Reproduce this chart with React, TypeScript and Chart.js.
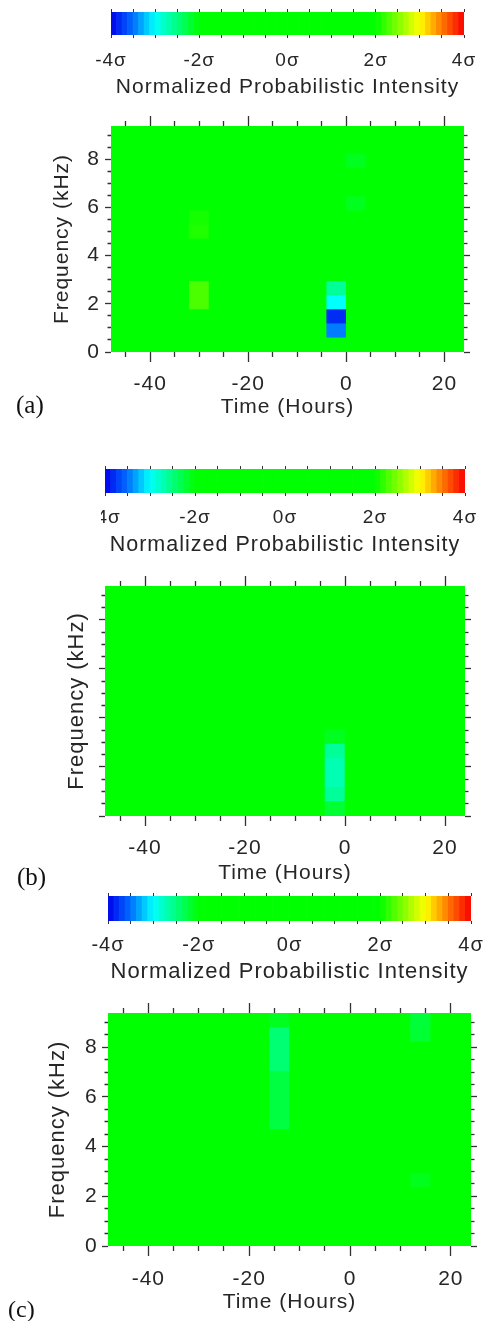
import React, { useEffect, useRef } from 'react';
import { Chart, registerables } from 'chart.js';

Chart.register(...registerables);

const FONT = "'Liberation Sans', Arial, Helvetica, sans-serif";
const SERIF = "'Liberation Serif', 'Times New Roman', Times, serif";
const TEXT_COLOR = '#262626';
const TICK_COLOR = '#333333';
Chart.defaults.font.family = FONT;
Chart.defaults.color = TEXT_COLOR;

// ---------------- data ----------------
// time bins (hours): start of each 4-hour bin
const timeBinStartsH = [-48, -44, -40, -36, -32, -28, -24, -20, -16, -12, -8, -4, 0, 4, 8, 12, 16, 20];
const timeBinWidthH = 4;
const timeRangeH = [-48, 24];
const timeTickLabels = [-40, -20, 0, 20];

// frequency bin edges (kHz)
const freqEdgesKHz = [0, 0.586, 1.172, 1.758, 2.344, 2.93, 3.516, 4.102, 4.688, 5.273, 5.859, 6.445, 7.031, 7.617, 8.203, 8.789, 9.375];
const freqTickLabels = [0, 2, 4, 6, 8];

// colour bar
const sigmaRange = [-4, 4];
const sigmaTickLabels = [-4, -2, 0, 2, 4];
const cmapStops = [-4, -3.5, -3, -2, 2, 3, 3.5, 4];
const cmapRGB = [
  [0, 0, 235],
  [0, 110, 255],
  [0, 255, 255],
  [0, 255, 0],
  [0, 255, 0],
  [255, 255, 0],
  [255, 120, 0],
  [250, 0, 0],
];
const colorbarSteps = 64;

// normalized intensity (sigma), rows = frequency bins (low -> high), columns = time bins
const intensityA = [
  [0, 0, 0, 0, 0, 0, 0, 0, 0, 0, 0, 0, 0, 0, 0, 0, 0, 0],
  [0, 0, 0, 0, 0, 0, 0, 0, 0, 0, 0, -3.45, 0, 0, 0, 0, 0, 0],
  [0, 0, 0, 0, 0, 0, 0, 0, 0, 0, 0, -3.8, 0, 0, 0, 0, 0, 0],
  [0, 0, 0, 0, 2.3, 0, 0, 0, 0, 0, 0, -3.0, 0, 0, 0, 0, 0, 0],
  [0, 0, 0, 0, 2.3, 0, 0, 0, 0, 0, 0, -2.6, 0, 0, 0, 0, 0, 0],
  [0, 0, 0, 0, 0, 0, 0, 0, 0, 0, 0, 0, 0, 0, 0, 0, 0, 0],
  [0, 0, 0, 0, 0, 0, 0, 0, 0, 0, 0, 0, 0, 0, 0, 0, 0, 0],
  [0, 0, 0, 0, 0, 0, 0, 0, 0, 0, 0, 0, 0, 0, 0, 0, 0, 0],
  [0, 0, 0, 0, 2.12, 0, 0, 0, 0, 0, 0, 0, 0, 0, 0, 0, 0, 0],
  [0, 0, 0, 0, 2.08, 0, 0, 0, 0, 0, 0, 0, 0, 0, 0, 0, 0, 0],
  [0, 0, 0, 0, 0, 0, 0, 0, 0, 0, 0, 0, -2.12, 0, 0, 0, 0, 0],
  [0, 0, 0, 0, 0, 0, 0, 0, 0, 0, 0, 0, 0, 0, 0, 0, 0, 0],
  [0, 0, 0, 0, 0, 0, 0, 0, 0, 0, 0, 0, 0, 0, 0, 0, 0, 0],
  [0, 0, 0, 0, 0, 0, 0, 0, 0, 0, 0, 0, -2.12, 0, 0, 0, 0, 0],
  [0, 0, 0, 0, 0, 0, 0, 0, 0, 0, 0, 0, 0, 0, 0, 0, 0, 0],
  [0, 0, 0, 0, 0, 0, 0, 0, 0, 0, 0, 0, 0, 0, 0, 0, 0, 0],
];

const intensityB = [
  [0, 0, 0, 0, 0, 0, 0, 0, 0, 0, 0, -2.2, 0, 0, 0, 0, 0, 0],
  [0, 0, 0, 0, 0, 0, 0, 0, 0, 0, 0, -2.6, 0, 0, 0, 0, 0, 0],
  [0, 0, 0, 0, 0, 0, 0, 0, 0, 0, 0, -2.7, 0, 0, 0, 0, 0, 0],
  [0, 0, 0, 0, 0, 0, 0, 0, 0, 0, 0, -2.7, 0, 0, 0, 0, 0, 0],
  [0, 0, 0, 0, 0, 0, 0, 0, 0, 0, 0, -2.6, 0, 0, 0, 0, 0, 0],
  [0, 0, 0, 0, 0, 0, 0, 0, 0, 0, 0, -2.12, 0, 0, 0, 0, 0, 0],
  [0, 0, 0, 0, 0, 0, 0, 0, 0, 0, 0, 0, 0, 0, 0, 0, 0, 0],
  [0, 0, 0, 0, 0, 0, 0, 0, 0, 0, 0, 0, 0, 0, 0, 0, 0, 0],
  [0, 0, 0, 0, 0, 0, 0, 0, 0, 0, 0, 0, 0, 0, 0, 0, 0, 0],
  [0, 0, 0, 0, 0, 0, 0, 0, 0, 0, 0, 0, 0, 0, 0, 0, 0, 0],
  [0, 0, 0, 0, 0, 0, 0, 0, 0, 0, 0, 0, 0, 0, 0, 0, 0, 0],
  [0, 0, 0, 0, 0, 0, 0, 0, 0, 0, 0, 0, 0, 0, 0, 0, 0, 0],
  [0, 0, 0, 0, 0, 0, 0, 0, 0, 0, 0, 0, 0, 0, 0, 0, 0, 0],
  [0, 0, 0, 0, 0, 0, 0, 0, 0, 0, 0, 0, 0, 0, 0, 0, 0, 0],
  [0, 0, 0, 0, 0, 0, 0, 0, 0, 0, 0, 0, 0, 0, 0, 0, 0, 0],
  [0, 0, 0, 0, 0, 0, 0, 0, 0, 0, 0, 0, 0, 0, 0, 0, 0, 0],
];

const intensityC = [
  [0, 0, 0, 0, 0, 0, 0, 0, 0, 0, 0, 0, 0, 0, 0, 0, 0, 0],
  [0, 0, 0, 0, 0, 0, 0, 0, 0, 0, 0, 0, 0, 0, 0, 0, 0, 0],
  [0, 0, 0, 0, 0, 0, 0, 0, 0, 0, 0, 0, 0, 0, 0, 0, 0, 0],
  [0, 0, 0, 0, 0, 0, 0, 0, 0, 0, 0, 0, 0, 0, 0, 0, 0, 0],
  [0, 0, 0, 0, 0, 0, 0, 0, 0, 0, 0, 0, 0, 0, 0, -2.1, 0, 0],
  [0, 0, 0, 0, 0, 0, 0, 0, 0, 0, 0, 0, 0, 0, 0, 0, 0, 0],
  [0, 0, 0, 0, 0, 0, 0, 0, 0, 0, 0, 0, 0, 0, 0, 0, 0, 0],
  [0, 0, 0, 0, 0, 0, 0, 0, 0, 0, 0, 0, 0, 0, 0, 0, 0, 0],
  [0, 0, 0, 0, 0, 0, 0, 0, -2.25, 0, 0, 0, 0, 0, 0, 0, 0, 0],
  [0, 0, 0, 0, 0, 0, 0, 0, -2.25, 0, 0, 0, 0, 0, 0, 0, 0, 0],
  [0, 0, 0, 0, 0, 0, 0, 0, -2.25, 0, 0, 0, 0, 0, 0, 0, 0, 0],
  [0, 0, 0, 0, 0, 0, 0, 0, -2.25, 0, 0, 0, 0, 0, 0, 0, 0, 0],
  [0, 0, 0, 0, 0, 0, 0, 0, -2.45, 0, 0, 0, 0, 0, 0, 0, 0, 0],
  [0, 0, 0, 0, 0, 0, 0, 0, -2.45, 0, 0, 0, 0, 0, 0, 0, 0, 0],
  [0, 0, 0, 0, 0, 0, 0, 0, -2.45, 0, 0, 0, 0, 0, 0, -2.2, 0, 0],
  [0, 0, 0, 0, 0, 0, 0, 0, -2.12, 0, 0, 0, 0, 0, 0, -2.22, 0, 0],
];

// ---------------- helpers ----------------
function colorFor(v: number): string {
  const x = Math.max(cmapStops[0], Math.min(cmapStops[cmapStops.length - 1], v));
  let i = 0;
  while (i < cmapStops.length - 2 && x > cmapStops[i + 1]) i++;
  const t = (x - cmapStops[i]) / (cmapStops[i + 1] - cmapStops[i]);
  const c = cmapRGB[i].map((c0, k) => Math.round(c0 + (cmapRGB[i + 1][k] - c0) * t));
  return `rgb(${c[0]},${c[1]},${c[2]})`;
}

const colorbarCenters = Array.from(
  { length: colorbarSteps },
  (_, i) => sigmaRange[0] + ((i + 0.5) * (sigmaRange[1] - sigmaRange[0])) / colorbarSteps
);

const letterSpacingPlugin = {
  id: 'letterSpacing',
  beforeDraw(chart: any) {
    try {
      chart.ctx.letterSpacing = '1px';
    } catch (e) {}
  },
};

const areaBgPlugin = {
  id: 'areaBg',
  beforeDatasetsDraw(chart: any, _args: any, opts: any) {
    if (!opts || !opts.color) return;
    const { ctx, chartArea: a } = chart;
    ctx.save();
    ctx.fillStyle = opts.color;
    ctx.fillRect(a.left, a.top, a.right - a.left, a.bottom - a.top);
    ctx.restore();
  },
};

// ---------------- layout ----------------
const PANELS = [
  {
    key: 'a',
    grid: intensityA,
    cb: { left: 0, top: 0, width: 490, height: 100, area: { left: 111, right: 464, top: 12, bottom: 35 }, labelSize: 19, labelPad: 11.6, titleSize: 21, titlePad: 0 },
    hm: { top: 100, height: 320, area: { left: 111, right: 464, top: 26, bottom: 252 }, xPad: 9.4, xTitlePad: 0, yLabels: true, yPad: 5, yTitleSize: 21, yTitlePad: 49.4 },
    tag: { left: 16, top: 391.5, size: 25 },
  },
  {
    key: 'b',
    grid: intensityB,
    cb: { left: 101, top: 455, width: 389, height: 105, area: { left: 4, right: 364, top: 14, bottom: 38 }, labelSize: 19, labelPad: 10.6, titleSize: 21.5, titlePad: 2.4 },
    hm: { top: 560, height: 330, area: { left: 105, right: 465, top: 26, bottom: 256 }, xPad: 9.4, xTitlePad: 4.4, yLabels: false, yPad: 5, yTitleSize: 22, yTitlePad: 63.8 },
    tag: { left: 17, top: 863.5, size: 25 },
  },
  {
    key: 'c',
    grid: intensityC,
    cb: { left: 0, top: 880, width: 490, height: 105, area: { left: 108, right: 471, top: 16, bottom: 41 }, labelSize: 20, labelPad: 9.5, titleSize: 22, titlePad: 0 },
    hm: { top: 985, height: 336, area: { left: 108, right: 471, top: 28, bottom: 261 }, xPad: 10.4, xTitlePad: 5.9, yLabels: true, yPad: 4.3, yTitleSize: 22, yTitlePad: 44.3 },
    tag: { left: 8, top: 1296.5, size: 24 },
  },
];

function colorbarConfig(cb: any): any {
  const W = cb.width;
  const H = cb.height;
  const a = cb.area;
  const gridOpts = { drawOnChartArea: false, offset: false, tickLength: 3, tickColor: TICK_COLOR, tickWidth: 1 };
  return {
    type: 'bar',
    data: {
      datasets: [
        {
          data: colorbarCenters.map((c) => ({ x: c, y: [0, 1] })),
          backgroundColor: colorbarCenters.map(colorFor),
          borderWidth: 0,
          barPercentage: 1,
          categoryPercentage: 1,
          xAxisID: 'x',
          yAxisID: 'y',
        },
      ],
    },
    options: {
      animation: false,
      responsive: false,
      events: [],
      layout: { padding: { left: a.left, right: W - a.right, top: 0, bottom: 0 }, autoPadding: false },
      plugins: { legend: { display: false }, tooltip: { enabled: false }, title: { display: false } },
      scales: {
        x: {
          type: 'linear',
          position: 'bottom',
          min: sigmaRange[0],
          max: sigmaRange[1],
          offset: false,
          afterFit: (s: any) => {
            s.height = H - a.bottom;
            s.paddingLeft = 0;
            s.paddingRight = 0;
          },
          ticks: {
            stepSize: 0.5,
            autoSkip: false,
            maxRotation: 0,
            minRotation: 0,
            padding: cb.labelPad,
            color: TEXT_COLOR,
            font: { family: FONT, size: cb.labelSize },
            callback: (v: number) => (sigmaTickLabels.includes(v) ? `${v}σ` : ''),
          },
          grid: gridOpts,
          border: { display: false },
          title: {
            display: true,
            text: 'Normalized Probabilistic Intensity',
            color: TEXT_COLOR,
            font: { family: FONT, size: cb.titleSize },
            padding: { top: 0, bottom: cb.titlePad },
          },
        },
        x2: {
          type: 'linear',
          position: 'top',
          min: sigmaRange[0],
          max: sigmaRange[1],
          offset: false,
          afterFit: (s: any) => {
            s.height = a.top;
            s.paddingLeft = 0;
            s.paddingRight = 0;
          },
          ticks: { display: false, stepSize: 0.5, autoSkip: false, maxRotation: 0 },
          grid: gridOpts,
          border: { display: false },
        },
        y: { display: false, min: 0, max: 1 },
      },
    },
    plugins: [letterSpacingPlugin],
  };
}

function heatmapConfig(hm: any, grid: number[][]): any {
  const W = 490;
  const H = hm.height;
  const a = hm.area;
  const isMajorX = (c: any) => !!c.tick && c.tick.value % 20 === 0;
  const isMajorY = (c: any) => !!c.tick && c.tick.value % 2 === 0;
  const datasets = freqEdgesKHz.slice(0, -1).map((f0, bi) => ({
    data: timeBinStartsH.map((t0) => ({ x: t0 + timeBinWidthH / 2, y: [f0, freqEdgesKHz[bi + 1]] })),
    backgroundColor: grid[bi].map(colorFor),
    borderWidth: 0,
    barPercentage: 1,
    categoryPercentage: 1,
    grouped: false,
    xAxisID: 'x',
    yAxisID: 'y',
  }));
  const xBase = {
    type: 'linear',
    min: timeRangeH[0],
    max: timeRangeH[1],
    offset: false,
    border: { display: false },
  };
  const yBase = {
    type: 'linear',
    min: freqEdgesKHz[0],
    max: freqEdgesKHz[freqEdgesKHz.length - 1],
    offset: false,
    border: { display: false },
  };
  const gridCommon = { drawOnChartArea: false, offset: false, tickColor: TICK_COLOR, tickWidth: 1.3 };
  return {
    type: 'bar',
    data: { datasets },
    options: {
      animation: false,
      responsive: false,
      events: [],
      layout: { padding: 0, autoPadding: false },
      plugins: {
        legend: { display: false },
        tooltip: { enabled: false },
        title: { display: false },
        areaBg: { color: colorFor(0) },
      },
      scales: {
        x: {
          ...xBase,
          position: 'bottom',
          afterFit: (s: any) => {
            s.height = H - a.bottom;
            s.paddingLeft = 0;
            s.paddingRight = 0;
          },
          ticks: {
            stepSize: 5,
            autoSkip: false,
            includeBounds: false,
            maxRotation: 0,
            minRotation: 0,
            padding: hm.xPad,
            color: TEXT_COLOR,
            font: { family: FONT, size: 21 },
            callback: (v: number) => (timeTickLabels.includes(v) ? String(v) : ''),
          },
          grid: { ...gridCommon, tickLength: 10, tickBorderDash: (c: any) => (isMajorX(c) ? [] : [5, 100]) },
          title: {
            display: true,
            text: 'Time (Hours)',
            color: TEXT_COLOR,
            font: { family: FONT, size: 21 },
            padding: { top: 0, bottom: hm.xTitlePad },
          },
        },
        x2: {
          ...xBase,
          position: 'top',
          afterFit: (s: any) => {
            s.height = a.top;
            s.paddingLeft = 0;
            s.paddingRight = 0;
          },
          ticks: { display: false, stepSize: 5, autoSkip: false, includeBounds: false, maxRotation: 0 },
          grid: { ...gridCommon, tickLength: 10, tickBorderDash: (c: any) => (isMajorX(c) ? [] : [0, 5, 5, 100]) },
        },
        y: {
          ...yBase,
          position: 'left',
          afterFit: (s: any) => {
            s.width = a.left;
            s.paddingTop = 0;
            s.paddingBottom = 0;
          },
          ticks: {
            stepSize: 0.5,
            autoSkip: false,
            includeBounds: false,
            padding: hm.yPad,
            color: TEXT_COLOR,
            font: { family: FONT, size: 21 },
            callback: (v: number) => (hm.yLabels && freqTickLabels.includes(v) ? String(v) : ''),
          },
          grid: { ...gridCommon, tickLength: 6, tickBorderDash: (c: any) => (isMajorY(c) ? [] : [0, 2.5, 3.5, 100]) },
          title: {
            display: true,
            text: 'Frequency (kHz)',
            color: TEXT_COLOR,
            font: { family: FONT, size: hm.yTitleSize },
            padding: { top: hm.yTitlePad, bottom: 0 },
          },
        },
        y2: {
          ...yBase,
          position: 'right',
          afterFit: (s: any) => {
            s.width = W - a.right;
            s.paddingTop = 0;
            s.paddingBottom = 0;
          },
          ticks: { display: false, stepSize: 0.5, autoSkip: false, includeBounds: false },
          grid: { ...gridCommon, tickLength: 6, tickBorderDash: (c: any) => (isMajorY(c) ? [] : [3.5, 100]) },
        },
      },
    },
    plugins: [letterSpacingPlugin, areaBgPlugin],
  };
}

function ChartCanvas({ left, top, width, height, makeConfig }: any) {
  const ref = useRef<HTMLCanvasElement>(null);
  useEffect(() => {
    const chart = new Chart(ref.current as HTMLCanvasElement, makeConfig());
    return () => chart.destroy();
  }, []);
  return (
    <canvas
      ref={ref}
      width={width}
      height={height}
      style={{ position: 'absolute', left, top, width, height, display: 'block' }}
    />
  );
}

export default function App() {
  return (
    <div style={{ position: 'absolute', left: 0, top: 0, width: 490, height: 1321, background: '#ffffff', overflow: 'hidden' }}>
      {PANELS.map((p) => (
        <React.Fragment key={p.key}>
          <ChartCanvas
            left={p.cb.left}
            top={p.cb.top}
            width={p.cb.width}
            height={p.cb.height}
            makeConfig={() => colorbarConfig(p.cb)}
          />
          <ChartCanvas left={0} top={p.hm.top} width={490} height={p.hm.height} makeConfig={() => heatmapConfig(p.hm, p.grid)} />
          <div
            style={{
              position: 'absolute',
              left: p.tag.left,
              top: p.tag.top,
              fontFamily: SERIF,
              fontSize: p.tag.size,
              lineHeight: `${p.tag.size}px`,
              color: '#111111',
              whiteSpace: 'nowrap',
            }}
          >
            ({p.key})
          </div>
        </React.Fragment>
      ))}
    </div>
  );
}
